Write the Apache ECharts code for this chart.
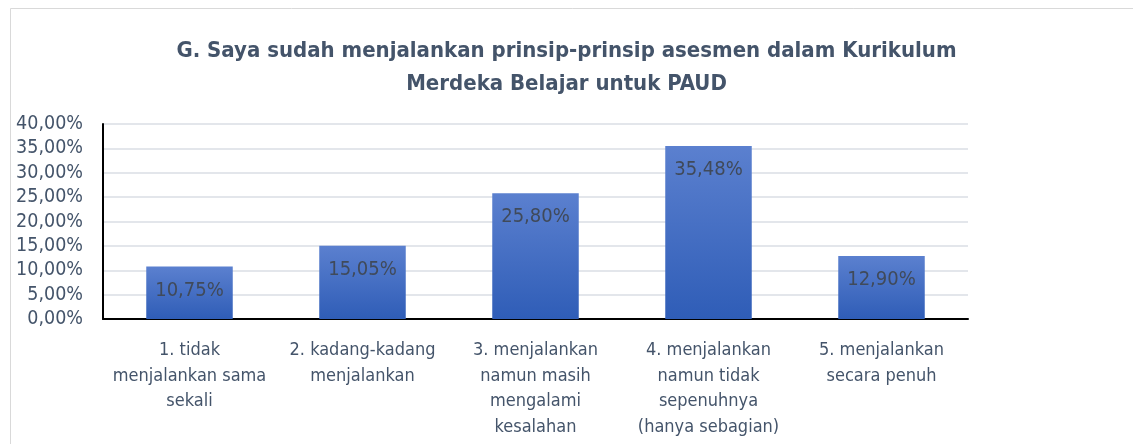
<!DOCTYPE html>
<html>
<head>
<meta charset="utf-8">
<script src="https://cdn.jsdelivr.net/npm/echarts@6/dist/echarts.min.js"></script>
<style>
  html, body { margin: 0; padding: 0; background: #fff; }
  #chart { width: 1133px; height: 444px; }
</style>
</head>
<body>
<div id="chart"></div>
<script>
// data
var chartTitle = "G. Saya sudah menjalankan prinsip-prinsip asesmen dalam Kurikulum\nMerdeka Belajar untuk PAUD";
var categories = [
  "1. tidak\nmenjalankan sama\nsekali",
  "2. kadang-kadang\nmenjalankan",
  "3. menjalankan\nnamun masih\nmengalami\nkesalahan",
  "4. menjalankan\nnamun tidak\nsepenuhnya\n(hanya sebagian)",
  "5. menjalankan\nsecara penuh"
];
var percentValues = [10.75, 15.05, 25.80, 35.48, 12.90];
var yMin = 0, yMax = 40, yStep = 5;

var font = "DejaVu Sans Condensed";
var textColor = "#44546a";

function pct(v) {
  return v.toFixed(2).replace(".", ",") + "%";
}

var chart = echarts.init(document.getElementById("chart"));
chart.setOption({
  animation: false,
  backgroundColor: "#fff",
  textStyle: { fontFamily: font },
  title: {
    text: chartTitle,
    left: "center",
    top: 30,
    textStyle: {
      fontFamily: font,
      fontSize: 22,
      fontWeight: "bold",
      color: textColor,
      lineHeight: 33
    }
  },
  graphic: [{
    type: "rect",
    shape: { x: 10.5, y: 8.5, width: 1140, height: 460 },
    style: { fill: null, stroke: "#d9d9d9", lineWidth: 1 },
    silent: true
  }],
  grid: { left: 103, right: 165, top: 124, bottom: 125 },
  xAxis: {
    type: "category",
    data: categories,
    axisLine: { lineStyle: { color: "#000", width: 2 } },
    axisTick: { show: false },
    axisLabel: {
      interval: 0,
      margin: 19,
      fontFamily: font,
      fontSize: 18,
      lineHeight: 25.5,
      color: textColor
    }
  },
  yAxis: {
    type: "value",
    min: yMin,
    max: yMax,
    interval: yStep,
    axisLine: { show: true, lineStyle: { color: "#000", width: 2 } },
    axisTick: { show: false },
    splitLine: { lineStyle: { color: "#e3e6eb", width: 2 } },
    axisLabel: {
      margin: 20,
      fontFamily: font,
      fontSize: 19.5,
      color: textColor,
      formatter: function (v) { return pct(v); }
    }
  },
  series: [{
    type: "bar",
    data: percentValues,
    barWidth: "50%",
    itemStyle: {
      color: new echarts.graphic.LinearGradient(0, 0, 0, 1, [
        { offset: 0, color: "#5b80cf" },
        { offset: 1, color: "#2f5db7" }
      ])
    },
    label: {
      show: true,
      position: "insideTop",
      distance: 14,
      fontFamily: font,
      fontSize: 20,
      color: "#404a5a",
      formatter: function (p) { return pct(p.value); }
    }
  }]
});
</script>
</body>
</html>
